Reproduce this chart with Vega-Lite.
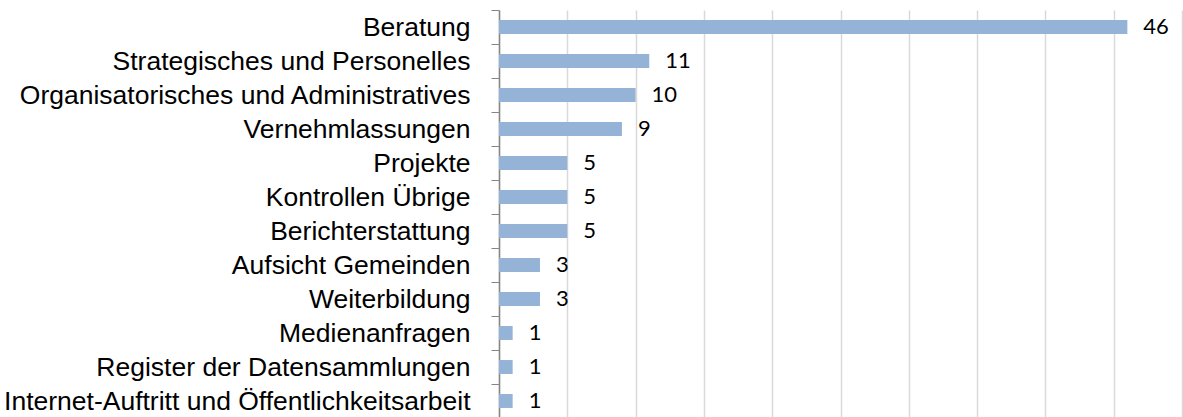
{
  "$schema": "https://vega.github.io/schema/vega-lite/v6.json",
  "autosize": {"type": "none"},
  "width": 683,
  "height": 408,
  "padding": {"left": 499, "top": 10, "right": 1, "bottom": 0},
  "background": "white",
  "config": {"view": {"stroke": null}},
  "data": {
    "values": [
      {"kategorie": "Beratung", "anzahl": 46},
      {"kategorie": "Strategisches und Personelles", "anzahl": 11},
      {"kategorie": "Organisatorisches und Administratives", "anzahl": 10},
      {"kategorie": "Vernehmlassungen", "anzahl": 9},
      {"kategorie": "Projekte", "anzahl": 5},
      {"kategorie": "Kontrollen Übrige", "anzahl": 5},
      {"kategorie": "Berichterstattung", "anzahl": 5},
      {"kategorie": "Aufsicht Gemeinden", "anzahl": 3},
      {"kategorie": "Weiterbildung", "anzahl": 3},
      {"kategorie": "Medienanfragen", "anzahl": 1},
      {"kategorie": "Register der Datensammlungen", "anzahl": 1},
      {"kategorie": "Internet-Auftritt und Öffentlichkeitsarbeit", "anzahl": 1}
    ]
  },
  "encoding": {
    "y": {
      "field": "kategorie",
      "type": "nominal",
      "sort": null,
      "title": null,
      "scale": {"paddingInner": 0.59, "paddingOuter": 0.295},
      "axis": {
        "domainColor": "#868686",
        "domainWidth": 1.5,
        "tickColor": "#868686",
        "tickSize": 8,
        "tickOffset": -17,
        "labelOffset": 17,
        "labelFont": "Liberation Sans",
        "labelFontSize": 26.5,
        "labelColor": "#000000",
        "labelPadding": 21,
        "labelLimit": 600
      }
    },
    "x": {
      "field": "anzahl",
      "type": "quantitative",
      "title": null,
      "scale": {"domain": [0, 50], "nice": false},
      "axis": {
        "values": [0, 5, 10, 15, 20, 25, 30, 35, 40, 45, 50],
        "labels": false,
        "ticks": false,
        "domain": false,
        "grid": true,
        "gridColor": "#D9D9D9",
        "gridWidth": 1.5
      }
    }
  },
  "layer": [
    {"mark": {"type": "bar", "color": "#95B3D7"}},
    {
      "mark": {"type": "text", "align": "left", "dx": 16, "font": "Lato", "fontSize": 22, "color": "#000000", "baseline": "middle"},
      "encoding": {"text": {"field": "anzahl", "type": "quantitative"}}
    }
  ]
}
